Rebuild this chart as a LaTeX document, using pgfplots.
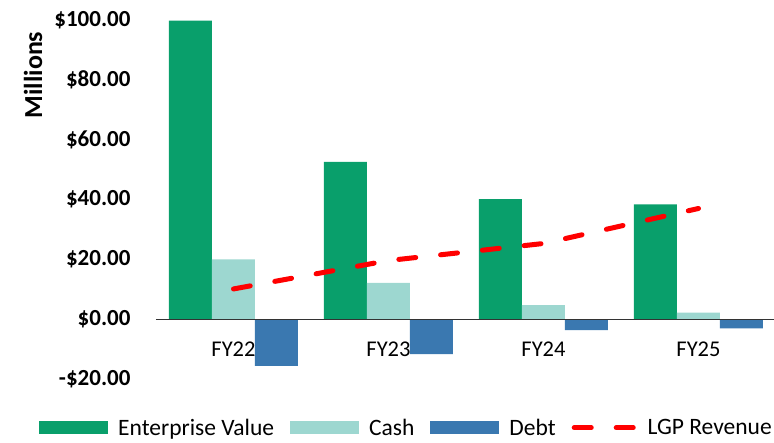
\documentclass[border=0pt]{standalone}
\usepackage{fontspec}
\setmainfont{Carlito}
\usepackage{pgfplots}
\pgfplotsset{compat=1.18}
\definecolor{evgreen}{RGB}{9,159,107}
\definecolor{cashc}{RGB}{157,215,208}
\definecolor{debtc}{RGB}{58,120,176}
\begin{document}
\begin{tikzpicture}
\begin{axis}[
  at={(0pt,0pt)}, anchor=south west,
  scale only axis, width=620pt, height=359pt,
  xmin=-0.5, xmax=3.5, ymin=-20, ymax=100,
  axis x line=middle, axis y line*=left,
  x axis line style={-, draw=black!80, line width=1.3pt},
  y axis line style={draw=none},
  axis on top,
  xtick={0,1,2,3},
  xticklabels={FY22,FY23,FY24,FY25},
  major x tick style={draw=none},
  extra x ticks={-0.5,0.5,1.5,2.5,3.5},
  extra x tick labels={},
  extra x tick style={major tick length=8pt, tick align=outside, tick style={draw=black!80, line width=1.3pt}, grid=none},
  xticklabel style={font=\fontsize{22.5}{27}\selectfont, yshift=-17pt},
  ytick={-20,0,20,40,60,80,100},
  yticklabels={-\$20.00,\$0.00,\$20.00,\$40.00,\$60.00,\$80.00,\$100.00},
  ytick style={draw=none},
  yticklabel style={font=\bfseries\fontsize{23}{27}\selectfont, xshift=-22pt},
  legend style={at={(0.404,-0.136)}, anchor=center, draw=none, legend columns=-1,
    font=\fontsize{23.5}{28}\selectfont, inner sep=0pt,
    /tikz/every odd column/.append style={column sep=8pt},
    /tikz/every even column/.append style={column sep=14pt}},
]
\addplot[ybar, bar width=43pt, bar shift=-43pt, fill=evgreen, draw=none,
  legend image code/.code={\fill[evgreen] (0pt,-6.5pt) rectangle (69pt,6.5pt);}]
  coordinates {(0,99.8) (1,52.6) (2,40.1) (3,38.4)};
\addlegendentry{Enterprise Value}
\addplot[ybar, bar width=43pt, bar shift=0pt, fill=cashc, draw=none,
  legend image code/.code={\fill[cashc] (0pt,-6.5pt) rectangle (69pt,6.5pt);}]
  coordinates {(0,20.0) (1,12.1) (2,4.7) (3,2.2)};
\addlegendentry{Cash}
\addplot[ybar, bar width=43pt, bar shift=43pt, fill=debtc, draw=none,
  legend image code/.code={\fill[debtc] (0pt,-6.5pt) rectangle (69pt,6.5pt);}]
  coordinates {(0,-15.6) (1,-11.7) (2,-3.7) (3,-3.1)};
\addlegendentry{Debt}
\addplot[red, line width=5pt, line cap=round, dash pattern=on 17pt off 25pt,
  legend image code/.code={\draw[red, line width=5pt, line cap=round] (2.5pt,0pt) -- (21.5pt,0pt); \draw[red, line width=5pt, line cap=round] (44.5pt,0pt) -- (63.5pt,0pt);}]
  coordinates {(0,10.1) (1,19.6) (2,25.3) (3,37.0)};
\addlegendentry{LGP Revenue}
\end{axis}
\node[rotate=90, font=\bfseries\fontsize{26}{30}\selectfont] at (-123pt,304pt) {Millions};
\pgfresetboundingbox
\path[use as bounding box] (-156pt,-63pt) rectangle (618pt,379pt);
\end{tikzpicture}
\end{document}
